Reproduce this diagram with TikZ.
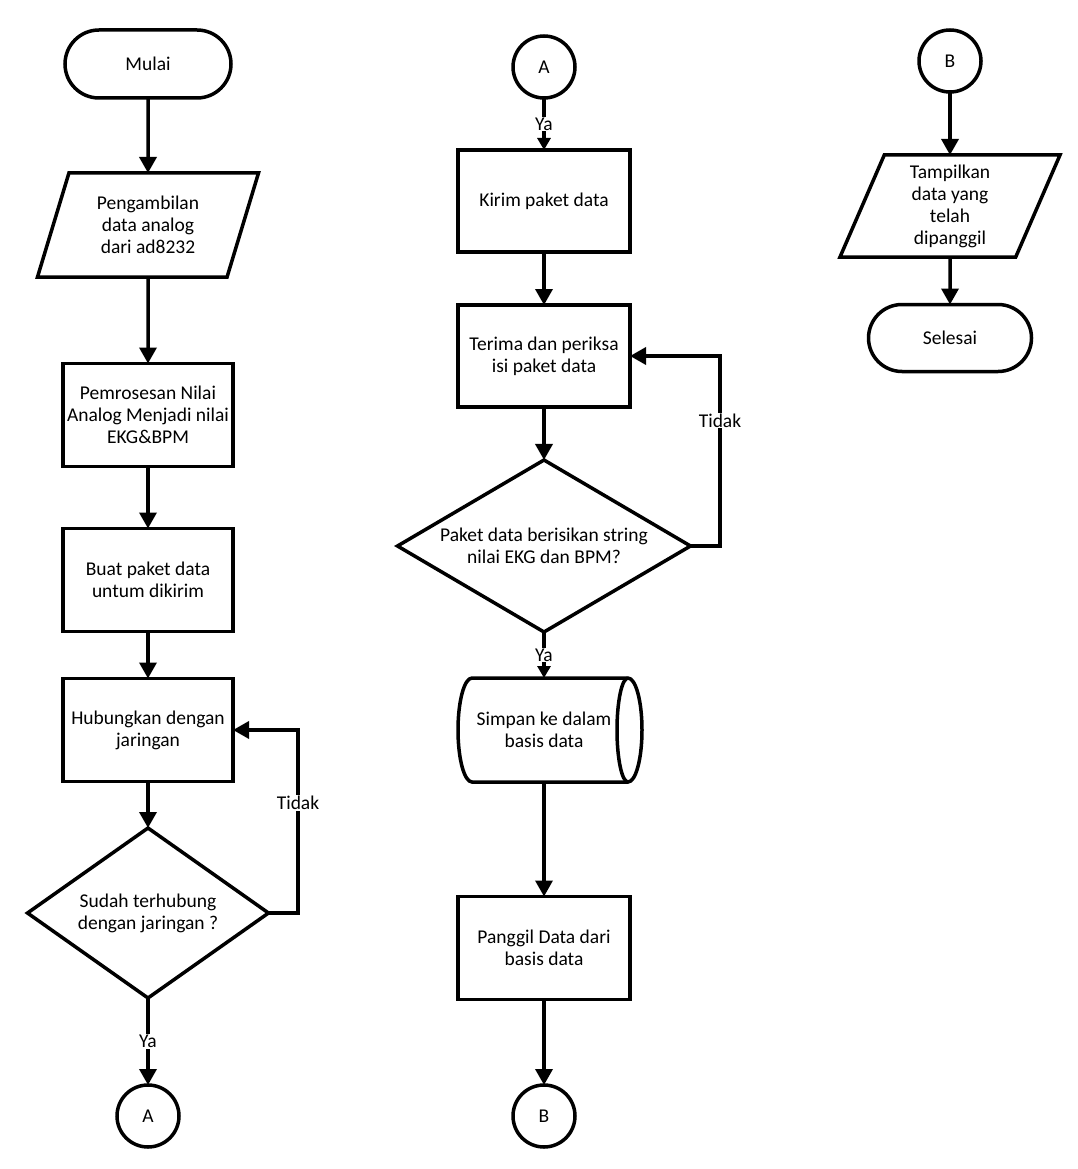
\documentclass[tikz,border=0pt]{standalone}
\usepackage{fontspec}
\setmainfont{Carlito}
\usepackage{tikz}
\usetikzlibrary{arrows.meta,shapes.geometric,shapes.misc}
\tikzset{
  base/.style={draw=black, line width=3.5pt, align=center, inner sep=2pt, outer sep=0pt},
  terminal/.style={base, rounded rectangle, minimum width=170pt, minimum height=68pt},
  process/.style={base, rectangle, minimum width=170pt, minimum height=103pt},
  io/.style={base, trapezium, trapezium left angle=63, trapezium right angle=117,
    trapezium stretches body, minimum width=221pt, minimum height=104pt},
  decision/.style={base, diamond, aspect=1.4, inner sep=0pt},
  storage/.style={base, draw=none, rectangle, minimum width=156pt, minimum height=104pt},
  connector/.style={base, circle, minimum size=62pt, inner sep=0pt},
  flow/.style={-{Triangle[length=16pt,width=17pt]}, line width=3.5pt},
  flowsmall/.style={-{Triangle[length=12pt,width=13pt]}, line width=3.5pt},
  answer/.style={fill=white, inner sep=1pt}
}
\begin{document}
\begin{tikzpicture}[x=1pt, y=-1pt, font=\fontsize{19.5}{22}\selectfont]
  \useasboundingbox (0,0) rectangle (1077,1169);
  % kolom kiri
  \node[terminal] (mulai) at (148,64) {Mulai};
  \node[io] (ambil) at (148,225) {Pengambilan\\data analog\\dari ad8232};
  \node[process] (proses) at (148,415) {Pemrosesan Nilai\\Analog Menjadi nilai\\EKG\&BPM};
  \node[process] (buat) at (148,580) {Buat paket data\\untum dikirim};
  \node[process] (hubung) at (148,730) {Hubungkan dengan\\jaringan};
  \node[decision, minimum width=241pt, minimum height=170pt] (cekjaringan) at (148,913)
    {Sudah terhubung\\dengan jaringan ?};
  \node[connector] (keA) at (148,1116) {A};
  \coordinate (ulang1) at (298,730);

  \draw[flow] (mulai) -- (ambil);
  \draw[flow] (ambil) -- (proses);
  \draw[flow] (proses) -- (buat);
  \draw[flow] (buat) -- (hubung);
  \draw[flow] (hubung) -- (cekjaringan);
  \draw[flow] (cekjaringan) -- node[answer] {Ya} (keA);
  \draw[flow] (cekjaringan.east) -| node[answer, pos=0.8] {Tidak} (ulang1) -- (hubung.east);

  % kolom tengah
  \node[connector] (dariA) at (544,67) {A};
  \node[process, minimum width=172pt, minimum height=102pt] (kirim) at (544,201) {Kirim paket data};
  \node[process, minimum width=172pt, minimum height=102pt] (terima) at (544,356)
    {Terima dan periksa\\isi paket data};
  \node[decision, aspect=1.7, minimum width=293pt, minimum height=172pt] (cekpaket) at (544,546)
    {Paket data berisikan string\\nilai EKG dan BPM?};
  \node[storage] (simpan) at (544,730) {Simpan ke dalam\\basis data};
  \draw[line width=3.5pt] ([xshift=6pt]simpan.north west) -- ([xshift=6pt]simpan.north east)
    arc[start angle=90, end angle=-90, x radius=14pt, y radius=52pt] -- ([xshift=6pt]simpan.south west)
    arc[start angle=270, end angle=90, x radius=14pt, y radius=52pt] -- cycle;
  \draw[line width=3.5pt] ([xshift=6pt]simpan.south east)
    arc[start angle=270, end angle=90, x radius=11pt, y radius=52pt];
  \node[process, minimum width=172pt, minimum height=103pt] (panggil) at (544,948)
    {Panggil Data dari\\basis data};
  \node[connector] (keB) at (544,1116) {B};
  \coordinate (ulang2) at (720,356);

  \draw[flowsmall] (dariA) -- node[answer] {Ya} (kirim);
  \draw[flow] (kirim) -- (terima);
  \draw[flow] (terima) -- (cekpaket);
  \draw[flowsmall] (cekpaket) -- node[answer] {Ya} (simpan);
  \draw[flow] (cekpaket.east) -| node[answer, pos=0.83] {Tidak} (ulang2) -- (terima.east);
  \draw[flow] (simpan) -- (panggil);
  \draw[flow] (panggil) -- (keB);

  % kolom kanan
  \node[connector] (dariB) at (950,61) {B};
  \node[io, minimum width=220pt, minimum height=102pt] (tampil) at (950,206)
    {Tampilkan\\data yang\\telah\\dipanggil};
  \node[terminal, minimum width=167pt, minimum height=67pt] (selesai) at (950,338) {Selesai};

  \draw[flow] (dariB) -- (tampil);
  \draw[flow] (tampil) -- (selesai);
\end{tikzpicture}
\end{document}
